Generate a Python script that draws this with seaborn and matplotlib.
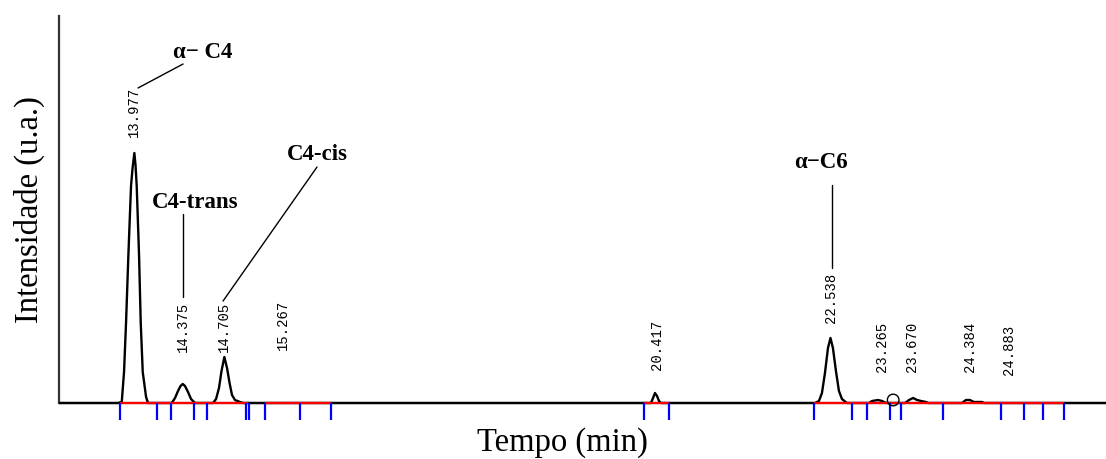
#!/usr/bin/env python3
# -*- coding: utf-8 -*-
"""
Cromatograma (intensidade x tempo) com picos identificados
"""
import pandas as pd
import seaborn as sns
import matplotlib.pyplot as plt

tempo = [13.054,
         13.780, 13.826, 13.854, 13.879, 13.907, 13.940, 13.959, 13.981,
         13.995, 14.010, 14.039, 14.059, 14.084, 14.125, 14.149,
         14.441, 14.481, 14.518, 14.549, 14.576, 14.604, 14.641, 14.678, 14.727,
         14.949, 14.986, 15.022, 15.053, 15.088, 15.121, 15.152, 15.182, 15.219, 15.281, 15.318,
         20.336, 20.361, 20.385, 20.410, 20.435, 20.459,
         22.353, 22.402, 22.439, 22.476, 22.513, 22.544, 22.574, 22.611, 22.648, 22.685, 22.746,
         23.018, 23.055, 23.129, 23.178, 23.227,
         23.461, 23.510, 23.560, 23.609, 23.658, 23.719, 23.744,
         24.161, 24.210, 24.259, 24.308, 24.407, 24.432,
         25.933]
intensidade = [0,
               0, 1, 31, 81, 147, 217, 235, 250,
               238, 217, 147, 81, 31, 6, 0,
               0, 5, 12, 17, 19, 17, 11, 4, 0,
               0, 4, 15, 32, 46, 35, 20, 8, 3, 1, 0,
               0, 5, 10, 7, 2, 0,
               0, 2, 10, 30, 55, 65, 55, 32, 12, 4, 0,
               0, 2, 3, 2, 0,
               0, 3, 5, 3, 2, 1, 0,
               0, 3, 3, 1, 1, 0,
               0]

# tempos de retenção (rótulos) e onde aparecem no traço
rotulos = ['13.977', '14.375', '14.705', '15.267', '20.417',
           '22.538', '23.265', '23.670', '24.384', '24.883']
rotulo_t = [13.977, 14.576, 15.084, 15.810, 20.406,
            22.552, 23.174, 23.543, 24.260, 24.740]

# marcas de integração (azul) e trechos de linha de base (vermelho)
marcas = [13.805, 14.256, 14.432, 14.715, 14.875, 15.351, 15.392, 15.588, 16.019, 16.396,
          20.250, 20.561, 22.345, 22.812, 22.989, 23.279, 23.411, 23.924,
          24.641, 24.928, 25.154, 25.420]
base_ini = [13.805, 15.588, 20.250, 22.345]
base_fim = [15.375, 16.396, 20.561, 25.420]

compostos = ['α− C4', 'C4-trans', 'C4-cis', 'α−C6']
# =================================================

# ---------- layout (posições dos textos) ----------
rotulo_y = [267, 52, 52, 54, 34, 81, 32, 32, 32, 29]
comp_xy = [(14.826, 352), (14.727, 202), (16.228, 250), (22.427, 241)]
ligacoes = [((14.026, 315), (14.580, 339)),
            ((14.576, 189), (14.576, 106)),
            ((16.228, 236), (15.072, 102)),
            ((22.562, 218), (22.562, 135))]

sns.set_style('white')
plt.rcParams['font.family'] = ['DejaVu Sans']
plt.rcParams['text.color'] = 'black'

fig = plt.figure(figsize=(11.06, 4.6), dpi=100)
ax = fig.add_axes([59 / 1106, 0, 1 - 59 / 1106, 1])

df = pd.DataFrame({'t': tempo, 'i': intensidade})
sns.lineplot(data=df, x='t', y='i', ax=ax, color='black', lw=1.7,
             estimator=None, sort=False, zorder=3)

# linha de base vermelha e marcas azuis
ax.hlines([0] * len(base_ini), base_ini, base_fim, colors='red', lw=1.6, zorder=4)
ax.vlines(marcas, -17, 0, colors='#0000ff', lw=1.6, zorder=4)
ax.scatter([23.315], [3], s=70, facecolors='none', edgecolors='black', lw=1.0, zorder=5)

for txt, x, y in zip(rotulos, rotulo_t, rotulo_y):
    ax.text(x, y, txt, rotation=90, ha='center', va='bottom', fontsize=10,
            family=['Liberation Mono', 'DejaVu Sans Mono'])

for txt, (x, y) in zip(compostos, comp_xy):
    ax.text(x, y, txt, ha='center', va='center', fontsize=16.5, fontweight='bold',
            family=['Liberation Serif', 'DejaVu Serif'])

for (x0, y0), (x1, y1) in ligacoes:
    ax.plot([x0, x1], [y0, y1], color='black', lw=1.0)

ax.set_xlim(13.054, 25.933)
ax.set_ylim(-56, 404)
for s in ['top', 'right', 'bottom']:
    ax.spines[s].set_visible(False)
ax.spines['left'].set_bounds(0, 387)
ax.spines['left'].set_color('#333333')
ax.spines['left'].set_linewidth(1.6)
ax.axhline(0, color='#333333', lw=1.6, zorder=2)
ax.set_xticks([])
ax.set_yticks([])
ax.set_xlabel('')
ax.set_ylabel('')

fig.text(29 / 1106, 1 - 210 / 460, 'Intensidade (u.a.)', rotation=90,
         ha='center', va='center', fontsize=23.5, family=['Liberation Serif', 'DejaVu Serif'])
fig.text(562 / 1106, 1 - 443 / 460, 'Tempo (min)', ha='center', va='center',
         fontsize=23.5, family=['Liberation Serif', 'DejaVu Serif'])

fig.savefig('out.png', dpi=100)
